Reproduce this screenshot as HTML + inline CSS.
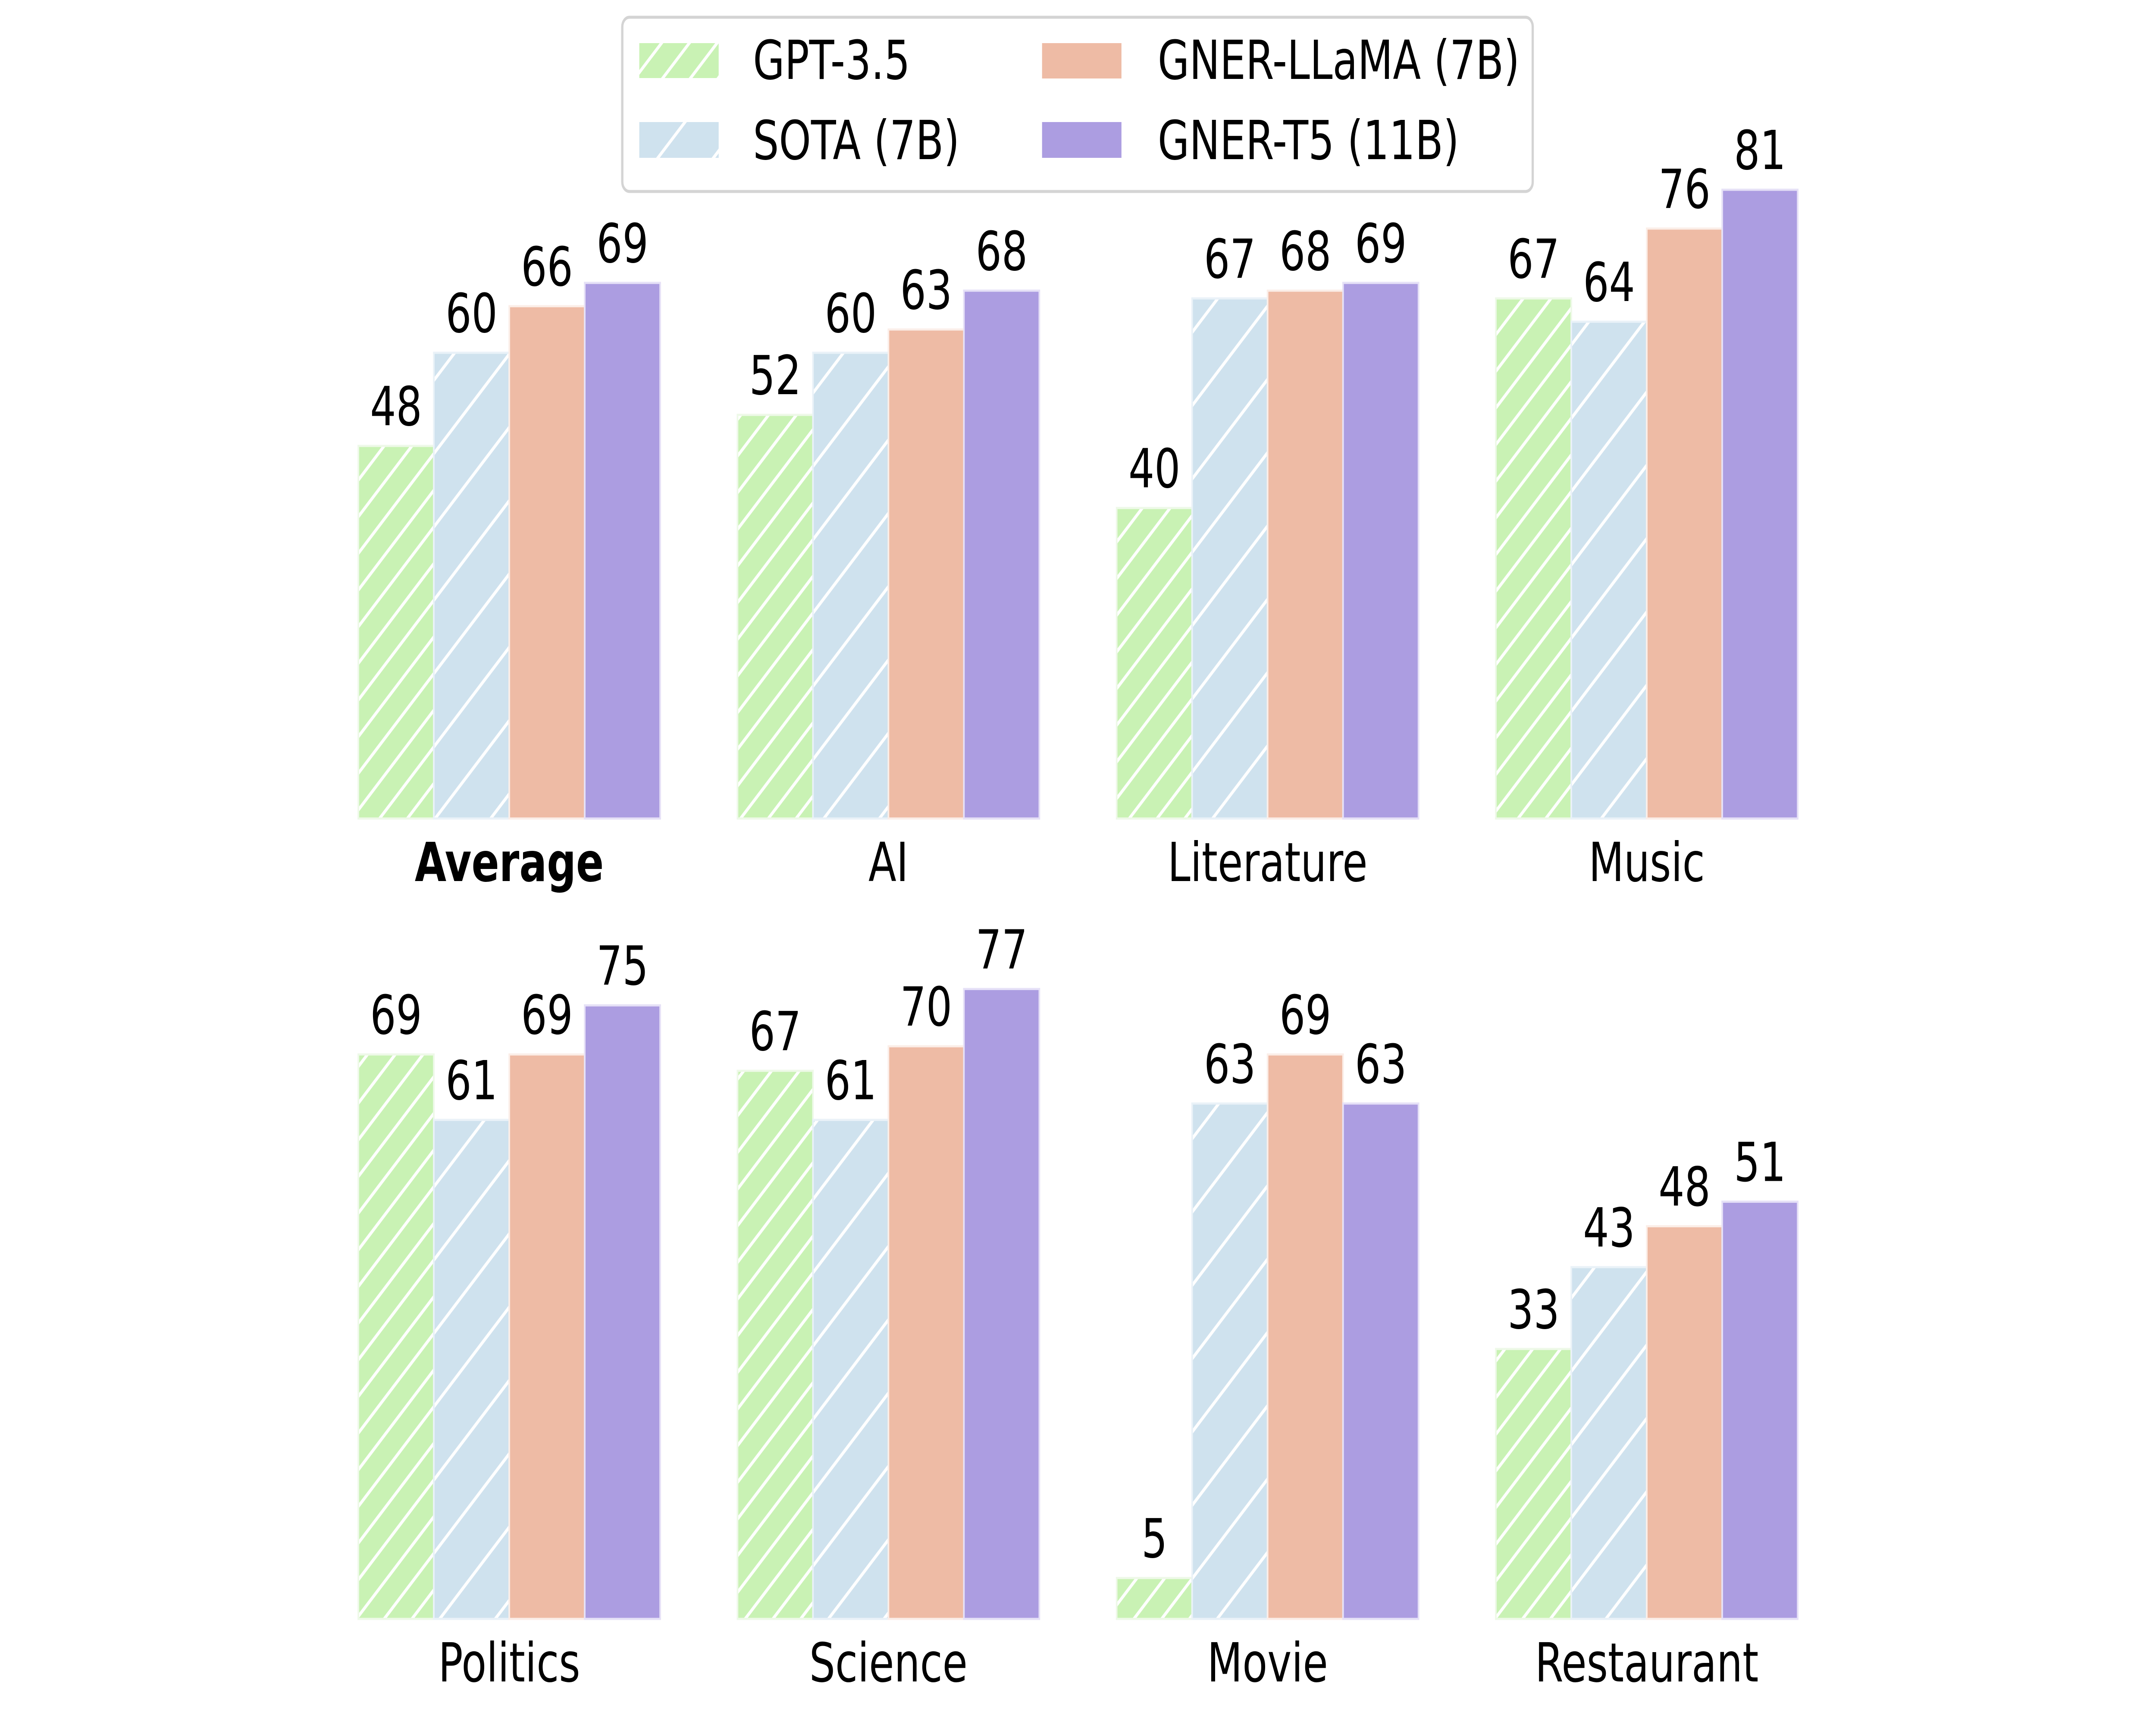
<!DOCTYPE html>
<html><head><meta charset="utf-8">
<style>
html,body{margin:0;padding:0;background:#fff;width:100%;height:100%;overflow:hidden;}
svg{display:block;width:100vw;height:100vh;font-family:"DejaVu Sans","Liberation Sans",sans-serif;}
</style></head>
<body>
<svg id="chart" viewBox="0 0 6600 4000" preserveAspectRatio="none" xmlns="http://www.w3.org/2000/svg">
<defs>
<pattern id="hatch-green" patternUnits="userSpaceOnUse" width="85" height="85">
<rect width="85" height="85" fill="#c9f2b4"/>
<path d="M-10,95 L95,-10 M-10,10 L10,-10 M75,95 L95,75" stroke="#ffffff" stroke-width="8"/>
</pattern>
<pattern id="hatch-blue" patternUnits="userSpaceOnUse" width="170" height="170">
<rect width="170" height="170" fill="#cfe2ee"/>
<path d="M-10,180 L180,-10 M-10,10 L10,-10 M160,180 L180,160" stroke="#ffffff" stroke-width="8"/>
</pattern>
</defs>
<g id="legend">
<rect x="1905" y="40" width="2787" height="404" rx="22" fill="#fff" stroke="#d4d4d4" stroke-width="7"/>
<g><rect x="1957" y="100" width="243" height="81" fill="url(#hatch-green)"/><text x="2305" y="183" font-size="125">GPT-3.5</text></g>
<g><rect x="1957" y="283" width="243" height="83" fill="url(#hatch-blue)"/><text x="2305" y="369" font-size="125">SOTA (7B)</text></g>
<g><rect x="3190" y="100" width="243" height="82" fill="#eebba5"/><text x="3544" y="183" font-size="125">GNER-LLaMA (7B)</text></g>
<g><rect x="3190" y="283" width="243" height="83" fill="#ac9de1"/><text x="3544" y="369" font-size="125">GNER-T5 (11B)</text></g>
</g>
<g id="bars"></g>
</svg>
<script>
const categories = ["Average","AI","Literature","Music","Politics","Science","Movie","Restaurant"];
const gpt35 = [48,52,40,67,69,67,5,33];
const sota = [60,60,67,64,61,61,63,43];
const gnerLlama = [66,63,68,76,69,70,69,48];
const gnerT5 = [69,68,69,81,75,77,63,51];
const seriesNames = ["gpt35","sota","gner-llama","gner-t5"];

const fills = ["url(#hatch-green)","url(#hatch-blue)","#eebba5","#ac9de1"];
const edges = ["#eef9e8","#eaf2f8","#fbeee8","#e6e1f7"];
const series = [gpt35, sota, gnerLlama, gnerT5];
const NS = "http://www.w3.org/2000/svg";
const g = document.getElementById("bars");
const panelLeft0 = 1097, panelStep = 1160.7, barW = 231;
const baselines = [1898, 3754];
const pxPerUnit = [18.0, 18.97];
function xPos(ci, si){ return panelLeft0 + (ci % 4) * panelStep + si * barW; }
function yScale(row, v){ return baselines[row] - v * pxPerUnit[row]; }

categories.forEach((cat, ci) => {
  const row = Math.floor(ci / 4);
  const pg = document.createElementNS(NS, "g");
  
  
  series.forEach((arr, si) => {
    const v = arr[ci];
    const x = xPos(ci, si), y = yScale(row, v);
    const r = document.createElementNS(NS, "rect");
    r.setAttribute("x", x); r.setAttribute("y", y);
    r.setAttribute("width", barW); r.setAttribute("height", baselines[row] - y);
    r.setAttribute("fill", fills[si]); r.setAttribute("stroke", edges[si]); r.setAttribute("stroke-width", "5");
    
    
    pg.appendChild(r);
    const t = document.createElementNS(NS, "text");
    t.setAttribute("x", x + barW / 2); t.setAttribute("y", y - 48);
    t.setAttribute("text-anchor", "middle"); t.setAttribute("font-size", "125");
    t.textContent = v;
    
    
    pg.appendChild(t);
  });
  const lab = document.createElementNS(NS, "text");
  lab.setAttribute("x", xPos(ci, 0) + 2 * barW);
  lab.setAttribute("y", baselines[row] + 145);
  lab.setAttribute("text-anchor", "middle"); lab.setAttribute("font-size", "125");
  if (ci === 0) lab.setAttribute("font-weight", "bold");
  lab.textContent = cat;
  
  
  pg.appendChild(lab);
  g.appendChild(pg);
});
</script>
</body></html>
